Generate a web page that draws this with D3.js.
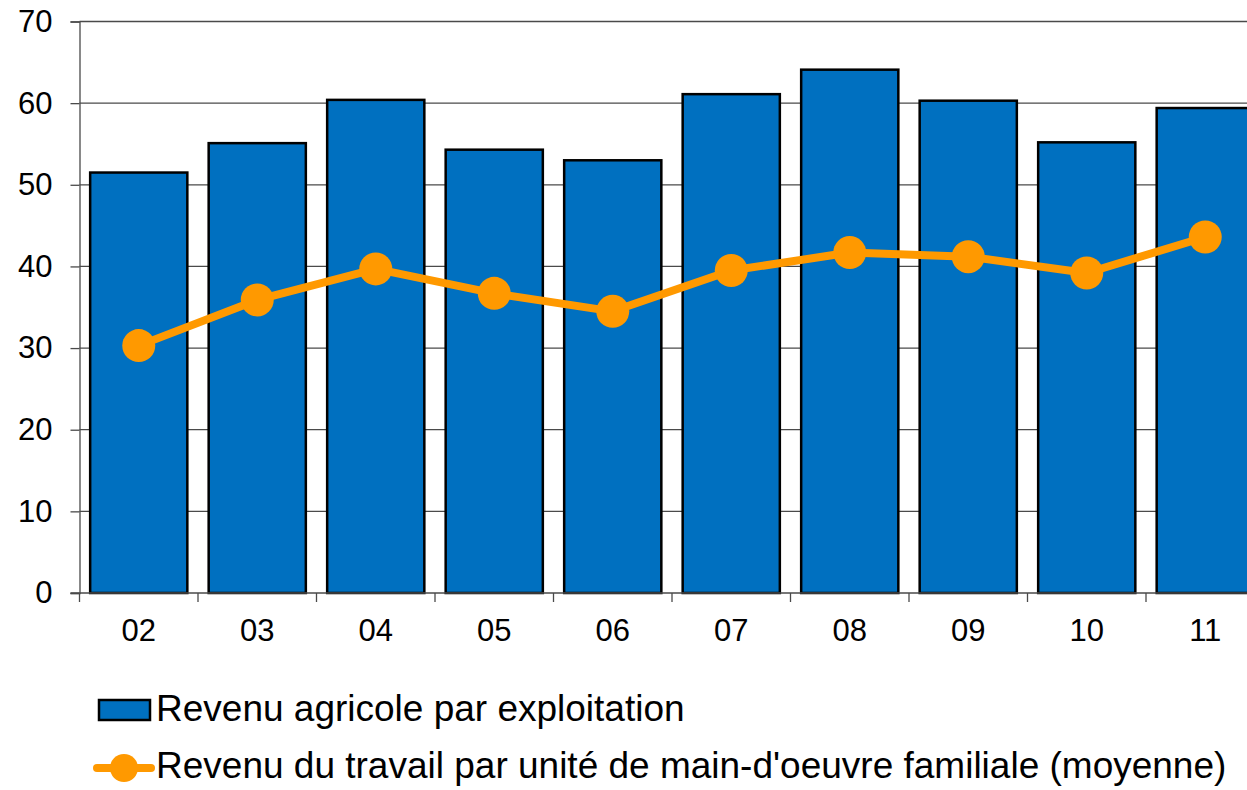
<!DOCTYPE html>
<html>
<head>
<meta charset="utf-8">
<script src="https://cdn.jsdelivr.net/npm/d3@7"></script>
<style>
  body { margin: 0; background: #fff; }
  svg { display: block; font-family: "Liberation Sans", Arial, sans-serif; }
</style>
</head>
<body>
<svg id="chart"></svg>
<script>
const years = ["02", "03", "04", "05", "06", "07", "08", "09", "10", "11"];
const revenuExploitation = [51.5, 55.1, 60.4, 54.3, 53.0, 61.1, 64.1, 60.3, 55.2, 59.4];
const revenuTravail = [30.3, 35.9, 39.7, 36.7, 34.5, 39.5, 41.7, 41.2, 39.2, 43.6];
const yTicks = [0, 10, 20, 30, 40, 50, 60, 70];
const legendLabels = [
  "Revenu agricole par exploitation",
  "Revenu du travail par unité de main-d'oeuvre familiale (moyenne)"
];

const W = 1247, H = 790;
const margin = { top: 21.5, left: 79.5 };
const plotW = 1185, plotH = 571.5;

const svg = d3.select("#chart").attr("width", W).attr("height", H);
const g = svg.append("g").attr("transform", "translate(" + margin.left + "," + margin.top + ")");

const x = d3.scaleBand().domain(years).range([0, plotW]).paddingInner(0.18).paddingOuter(0.09);
const y = d3.scaleLinear().domain([0, 70]).range([plotH, 0]);

// gridlines
g.selectAll(".grid")
  .data(yTicks.filter(d => d > 0))
  .enter()
  .append("line")
  .attr("x1", 0)
  .attr("x2", plotW)
  .attr("y1", d => y(d))
  .attr("y2", d => y(d))
  .attr("stroke", "#4a4a4a")
  .attr("stroke-width", 1.3);

// bars
g.selectAll(".bar")
  .data(revenuExploitation)
  .enter()
  .append("rect")
  .attr("x", (d, i) => x(years[i]))
  .attr("y", d => y(d))
  .attr("width", x.bandwidth())
  .attr("height", d => plotH - y(d))
  .attr("fill", "#0070C0")
  .attr("stroke", "#000")
  .attr("stroke-width", 2.5);

// y axis
const yAxis = d3.axisLeft(y).tickValues(yTicks).tickSize(9).tickPadding(18);
const ya = g.append("g").call(yAxis);
ya.select(".domain").attr("stroke", "#4a4a4a").attr("stroke-width", 1.3);
ya.selectAll(".tick line").attr("stroke", "#4a4a4a").attr("stroke-width", 1.3);
ya.selectAll("text").attr("font-size", 31).attr("fill", "#000").attr("font-family", "Liberation Sans, Arial, sans-serif");

// x axis
const xa = g.append("g").attr("transform", "translate(0," + plotH + ")");
xa.append("line")
  .attr("x1", -9).attr("x2", plotW)
  .attr("stroke", "#4a4a4a").attr("stroke-width", 1.3);
xa.selectAll(".xtick")
  .data(d3.range(years.length + 1))
  .enter()
  .append("line")
  .attr("x1", i => i * x.step())
  .attr("x2", i => i * x.step())
  .attr("y1", 0).attr("y2", 9)
  .attr("stroke", "#4a4a4a").attr("stroke-width", 1.3);
xa.selectAll(".xlabel")
  .data(years)
  .enter()
  .append("text")
  .attr("x", d => x(d) + x.bandwidth() / 2)
  .attr("y", 48)
  .attr("text-anchor", "middle")
  .attr("font-size", 31)
  .text(d => d);

// line series
const line = d3.line()
  .x((d, i) => x(years[i]) + x.bandwidth() / 2)
  .y(d => y(d));
g.append("path")
  .datum(revenuTravail)
  .attr("d", line)
  .attr("fill", "none")
  .attr("stroke", "#FF9900")
  .attr("stroke-width", 8)
  .attr("stroke-linejoin", "round");
g.selectAll(".dot")
  .data(revenuTravail)
  .enter()
  .append("circle")
  .attr("cx", (d, i) => x(years[i]) + x.bandwidth() / 2)
  .attr("cy", d => y(d))
  .attr("r", 16.5)
  .attr("fill", "#FF9900");

// legend
const lg = svg.append("g");
lg.append("rect")
  .attr("x", 99).attr("y", 700)
  .attr("width", 51).attr("height", 20)
  .attr("fill", "#0070C0").attr("stroke", "#000").attr("stroke-width", 2.5);
lg.append("text")
  .attr("x", 156).attr("y", 721)
  .attr("font-size", 37)
  .text(legendLabels[0]);
lg.append("line")
  .attr("x1", 97).attr("x2", 151)
  .attr("y1", 768).attr("y2", 768)
  .attr("stroke", "#FF9900").attr("stroke-width", 8).attr("stroke-linecap", "round");
lg.append("circle")
  .attr("cx", 124).attr("cy", 768).attr("r", 14)
  .attr("fill", "#FF9900");
lg.append("text")
  .attr("x", 156).attr("y", 778)
  .attr("font-size", 37)
  .text(legendLabels[1]);
</script>
</body>
</html>
